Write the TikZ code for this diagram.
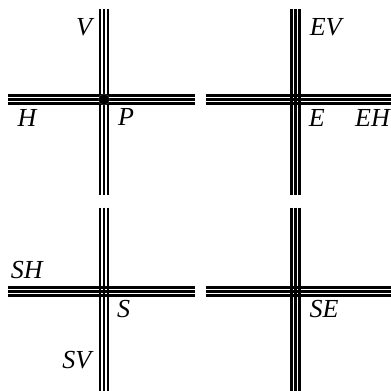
\documentclass[tikz,border=0pt]{standalone}
\usepackage{fontspec}
\setmainfont{Liberation Serif}
\begin{document}
\begin{tikzpicture}[x=1pt,y=-1pt,
  lbl/.style={inner sep=0pt,font=\fontsize{26}{26}\selectfont\itshape},
  rail/.style={line width=2.6pt,black},
  hrail/.style={rail,postaction={draw,line width=2.6pt,transform canvas={yshift=3.9pt}},postaction={draw,line width=2.6pt,transform canvas={yshift=-3.9pt}}},
  vrail/.style={rail,postaction={draw,line width=2.6pt,transform canvas={xshift=3.9pt}},postaction={draw,line width=2.6pt,transform canvas={xshift=-3.9pt}}}]
\useasboundingbox (0,0) rectangle (391,391);
% coordinates
\coordinate (tlV1) at (104,9);   \coordinate (tlV2) at (104,195);
\coordinate (tlH1) at (8,99.5);  \coordinate (tlH2) at (195,99.5);
\coordinate (trV1) at (295.3,9); \coordinate (trV2) at (295.3,195);
\coordinate (trH1) at (205.5,99.5); \coordinate (trH2) at (391,99.5);
\coordinate (blV1) at (104,207.5); \coordinate (blV2) at (104,391);
\coordinate (blH1) at (8,291.3); \coordinate (blH2) at (195,291.3);
\coordinate (brV1) at (295.3,207.5); \coordinate (brV2) at (295.3,391);
\coordinate (brH1) at (205.5,291.3); \coordinate (brH2) at (391,291.3);
% rails
\draw[hrail] (tlH1) -- (tlH2);
\draw[vrail] (tlV1) -- (tlV2);
\draw[hrail] (trH1) -- (trH2);
\draw[vrail] (trV1) -- (trV2);
\draw[hrail] (blH1) -- (blH2);
\draw[vrail] (blV1) -- (blV2);
\draw[hrail] (brH1) -- (brH2);
\draw[vrail] (brV1) -- (brV2);
% point P
\node[circle,fill=black,draw=black!80,line width=0.6pt,minimum size=11pt,inner sep=0pt] (pt) at (104,99.5) {};
% labels
\node[lbl] (V) at (84,27) {V};
\node[lbl] (H) at (27,118) {H};
\node[lbl] (P) at (126,117) {P};
\node[lbl] (EV) at (325.7,27.5) {EV};
\node[lbl] (E) at (316.7,118) {E};
\node[lbl] (EH) at (372.5,118) {EH};
\node[lbl] (SH) at (26.7,270) {SH};
\node[lbl] (S) at (123.7,309) {S};
\node[lbl] (SV) at (76.7,360) {SV};
\node[lbl] (SE) at (324,309) {SE};
\end{tikzpicture}
\end{document}
